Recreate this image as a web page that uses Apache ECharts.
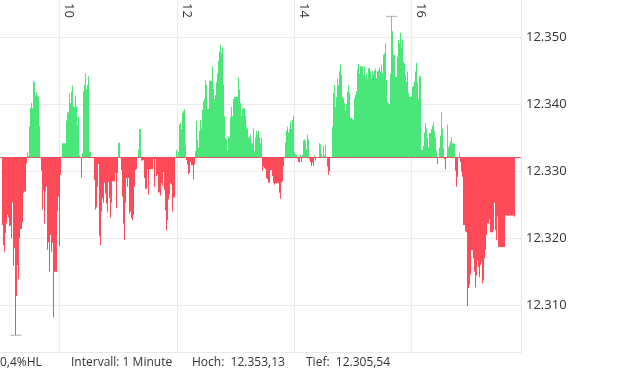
<!DOCTYPE html>
<html><head><meta charset="utf-8">
<script src="https://cdn.jsdelivr.net/npm/echarts@6/dist/echarts.min.js"></script>
<style>html,body{margin:0;padding:0;background:#fff;}#c{width:620px;height:372px;}</style>
</head><body><div id="c"></div>
<script>
// Reference level (previous close) and axis ticks
const baseline = 12332.1;
const startMinute = 541;            // first 1-minute bar (09:01), one bar per minute
const hourTicks = [600, 720, 840, 960];
const priceTicks = [12310, 12320, 12330, 12340, 12350];
const summaryText = '0,4%HL';
const intervalText = 'Intervall: 1 Minute';

// Index values, one per minute
const valsA = [
12322.0,12319.0,12318.0,12320.8,12322.2,12323.5,12323.1,12321.8,12321.9,12320.0,
12325.3,12325.3,12315.9,12318.5,12305.54,12311.4,12316.0,12313.9,12320.0,12321.4,12321.4,
12322.4,12326.8,12327.0,12327.0,12331.2,12332.9,12332.3,12336.7,12339.4,12340.2,
12339.4,12343.5,12343.3,12341.3,12341.8,12341.3,12341.1,12336.8,12332.0,12330.1,
12324.3,12327.2,12322.2,12327.0,12327.7,12318.3,12319.4,12315.0,12320.5,12318.0,
12319.3,12308.2,12315.0,12315.0,12315.0,12324.0,12328.6,12326.2,12318.8,12329.5,
12332.2,12334.2,12334.2,12334.2,12334.2,12337.6,12338.8,12338.8,12341.7,12340.2,12341.9,
12342.8,12339.7,12339.6,12341.3,12339.8,12337.0,12338.1,12332.4,12332.1,12329.1,
12332.7,12341.9,12342.9,12344.6,12342.3,12342.9,12344.2,12332.9,12332.9,12332.1
];
const valsB = [
12332.1,12332.1,12328.7,12324.3,12324.6,12327.7,12331.1,12320.4,12319.0,12324.0,
12326.0,12325.3,12328.2,12328.3,12326.7,12325.2,12323.9,12328.4,12326.0,12323.1,
12325.3,12328.5,12328.5,12328.5,12329.8,12324.5,12329.7,12334.2,12334.3,12332.1,12330.2,
12326.2,12322.2,12319.8,12325.3,12329.0,12327.7,12329.0,12323.7,12324.0,12323.0,
12322.7,12323.5,12327.7,12330.2,12330.3,12332.1,12333.2,12336.3,12336.3,12331.6,
12331.6,12331.7,12329.0,12327.4,12327.4,12330.3,12326.5,12326.8,12330.3,12330.3,12330.3,
12330.3,12331.8,12327.7,12331.8,12329.3,12329.6,12326.8,12326.9,12326.4,12328.2,
12327.9,12329.9,12327.2,12324.2,12321.2,12322.7,12325.8,12326.6,12328.2,12328.0,
12324.0,12326.1,12326.1,12332.1,12333.2,12332.2,12332.9,12337.0,12337.2,12336.3
];
const valsC = [
12338.7,12339.0,12339.3,12334.0,12331.7,12331.0,12329.6,12329.8,12331.4,12330.9,12330.9,
12328.8,12329.0,12331.0,12333.0,12337.5,12334.7,12333.5,12336.0,12337.7,12336.4,
12339.2,12340.4,12340.8,12343.6,12342.9,12339.3,12339.3,12343.5,12343.5,12343.5,
12345.7,12342.3,12340.8,12341.4,12343.3,12344.6,12346.5,12347.9,12348.9,12347.6,
12348.5,12343.0,12338.2,12335.0,12334.7,12333.0,12335.2,12335.0,12338.1,12339.6,
12338.2,12340.8,12341.1,12341.1,12341.1,12341.1,12343.5,12344.0,12342.2,12340.2,12338.3,
12339.3,12339.5,12339.4,12338.3,12336.7,12336.4,12335.0,12335.1,12335.5,12334.2,
12334.2,12336.4,12333.0,12335.0,12336.0,12335.5,12336.0,12335.1,12334.2,12335.0
];
const valsD = [
12330.1,12330.7,12330.5,12330.3,12329.0,12328.8,12328.3,12328.3,12330.2,12330.2,
12329.3,12328.3,12328.0,12328.2,12328.2,12328.3,12328.2,12326.8,12325.9,12328.3,12328.5,
12330.7,12331.3,12332.1,12334.3,12336.1,12336.7,12335.8,12336.3,12337.4,12336.4,
12337.7,12338.3,12332.8,12332.6,12332.4,12331.9,12331.4,12331.3,12332.4,12331.4,
12332.4,12334.6,12334.8,12334.5,12333.3,12335.5,12334.7,12331.8,12331.4,12330.8,
12331.3,12330.8,12332.4,12331.6,12332.1,12332.1,12332.1,12334.2,12334.0,12332.6,12332.2,
12333.8,12332.4,12334.0,12332.1,12330.7,12331.3,12329.5,12330.0,12332.1,12332.1
];
const valsE = [
12336.7,12341.7,12342.9,12339.6,12341.1,12343.8,12342.9,12344.9,12345.9,12344.4,
12341.1,12340.9,12340.2,12339.0,12340.0,12341.9,12342.8,12341.7,12338.0,12338.0,
12337.8,12337.7,12340.9,12341.4,12341.9,12345.2,12346.0,12344.6,12345.7,12345.7,12345.7,
12344.4,12345.6,12344.1,12344.6,12343.9,12345.4,12345.4,12344.9,12343.9,12345.0,
12344.4,12344.1,12345.0,12345.4,12343.9,12344.9,12345.1,12345.5,12344.9,12345.9,
12344.7,12347.4,12347.6,12349.1,12343.6,12340.4,12340.2,12340.0,12344.6,12353.13,
12350.9,12347.4,12347.4,12344.1,12344.1,12347.1,12349.6,12349.1,12350.7,12348.4,
12349.7,12346.4,12346.1,12344.4,12343.4,12344.9,12341.7,12341.1,12341.1,12341.1,12342.6,
12342.8,12343.4,12344.9,12346.2,12343.3,12340.8,12340.8,12344.2,12344.2,12333.2
];
const valsF = [
12333.2,12333.8,12335.8,12337.2,12336.4,12335.0,12333.6,12335.7,12335.7,12336.3,
12336.8,12337.3,12336.0,12335.1,12333.1,12331.1,12332.1,12333.5,12335.3,12338.8,
12336.4,12333.5,12331.8,12330.3,12332.1,12337.0,12333.6,12334.0,12334.5,12335.1,
12334.2,12334.2,12334.1,12330.1,12327.7,12329.2,12332.1,12332.8,12331.4,12330.0,12329.2,
12325.3,12322.0,12322.0,12321.0,12320.9,12309.9,12312.6,12313.1,12314.6,12318.2,
12318.2,12317.0,12315.0,12312.7,12314.4,12316.7,12315.7,12314.2,12316.0,12316.5,
12313.3,12313.8,12317.0,12318.3,12320.5,12322.2,12322.2,12322.8,12320.9,12320.9,
12320.9,12321.2,12325.3,12321.2,12319.7,12323.3,12318.7,12318.7,12318.7,12318.7,12318.7,
12318.7,12318.7,12323.4,12323.4,12323.4,12323.4,12323.4,12323.4,12323.4,12323.4,
12323.4,12323.4,12323.2
];

const values = [].concat(valsA, valsB, valsC, valsD, valsE, valsF);
const barData = values.map((v, i) => [startMinute + i, v]);
let hiI = 0, loI = 0;
values.forEach((v, i) => { if (v > values[hiI]) hiI = i; if (v < values[loI]) loI = i; });
const hi = values[hiI], lo = values[loI];

function thousands(s) { return s.replace(/\B(?=(\d{3})+(?!\d))/g, '.'); }
function fmtDE(v, d) { const p = v.toFixed(d).split('.'); return thousands(p[0]) + (p[1] ? ',' + p[1] : ''); }

const GREEN = '#4be67a', RED = '#ff4a5a';
const FONT = 'Open Sans';
const chart = echarts.init(document.getElementById('c'), null, { renderer: 'canvas' });
const xMin = 539.2, xMax = 1071.8;
chart.setOption({
  animation: false,
  backgroundColor: '#ffffff',
  grid: { left: 0, top: 0, width: 521, height: 352, containLabel: false, outerBoundsMode: 'none' },
  xAxis: [{
    type: 'value', position: 'top', min: xMin, max: xMax,
    axisLine: { show: false },
    axisTick: { show: false, customValues: hourTicks },
    axisLabel: { customValues: hourTicks, inside: true, rotate: 90, margin: 3,
      align: 'left', verticalAlign: 'bottom', padding: [0, 0, 3, 0],
      formatter: v => String(Math.round(v / 60)),
      fontFamily: FONT, fontSize: 13, color: '#333' },
    splitLine: { show: true, lineStyle: { color: '#ebebeb', width: 1 } }
  }, {
    type: 'value', position: 'bottom', min: xMin, max: xMax,
    axisLine: { show: true, lineStyle: { color: '#e8e8e8', width: 1 } },
    axisTick: { show: false }, axisLabel: { show: false }, splitLine: { show: false }
  }],
  yAxis: {
    type: 'value', position: 'right', min: 12303.03, max: 12355.57,
    axisLine: { show: true, lineStyle: { color: '#e8e8e8', width: 1 } },
    axisTick: { show: false, customValues: priceTicks },
    axisLabel: { customValues: priceTicks, margin: 5, formatter: v => fmtDE(v, 0),
      fontFamily: FONT, fontSize: 13, color: '#333' },
    splitLine: { show: true, lineStyle: { color: '#ebebeb', width: 1 } }
  },
  series: [{
    type: 'custom', xAxisIndex: 0, clip: true,
    data: barData, encode: { x: 0, y: 1 },
    renderItem: (params, api) => {
      const t = api.value(0), v = api.value(1);
      const a = api.coord([t, v]);
      const b = api.coord([t + 1, baseline]);
      const x0 = Math.round(a[0]);
      const w = Math.max(1, Math.round(b[0]) - x0);
      return { type: 'rect',
        shape: { x: x0, y: Math.min(a[1], b[1]), width: w, height: Math.abs(b[1] - a[1]) },
        style: { fill: v >= baseline ? GREEN : RED } };
    },
    markLine: { silent: true, symbol: ['none', 'none'], label: { show: false },
      lineStyle: { color: '#f0505e', width: 1, type: 'solid' }, data: [{ yAxis: baseline }] }
  }, {
    type: 'scatter', xAxisIndex: 0, symbol: 'rect', symbolSize: [11, 1], silent: true,
    itemStyle: { color: '#9a9a9a' },
    data: [[startMinute + hiI + 0.5, hi], [startMinute + loI + 0.5, lo]]
  }],
  graphic: [
    { type: 'text', left: 0, top: 357, style: { text: summaryText, font: '12px "Open Sans"', fill: '#333' } },
    { type: 'text', left: 71, top: 357, style: { text: intervalText, font: '12px "Open Sans"', fill: '#333' } },
    { type: 'text', left: 192, top: 357, style: { text: 'Hoch:  ' + fmtDE(hi, 2), font: '12px "Open Sans"', fill: '#333' } },
    { type: 'text', left: 306, top: 357, style: { text: 'Tief:  ' + fmtDE(lo, 2), font: '12px "Open Sans"', fill: '#333' } }
  ]
});
</script></body></html>
